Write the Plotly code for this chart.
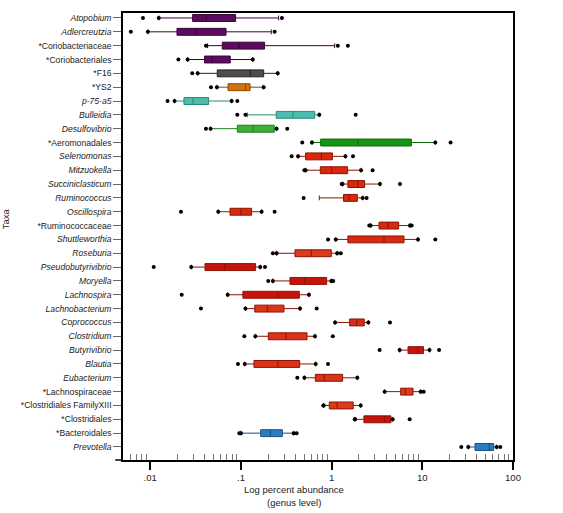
import plotly.graph_objects as go

taxa = ["Atopobium", "Adlercreutzia", "*Coriobacteriaceae", "*Coriobacteriales", "*F16", "*YS2",
        "p-75-a5", "Bulleidia", "Desulfovibrio", "*Aeromonadales", "Selenomonas", "Mitzuokella",
        "Succiniclasticum", "Ruminococcus", "Oscillospira", "*Ruminococcaceae", "Shuttleworthia",
        "Roseburia", "Pseudobutyrivibrio", "Moryella", "Lachnospira", "Lachnobacterium",
        "Coprococcus", "Clostridium", "Butyrivibrio", "Blautia", "Eubacterium",
        "*Lachnospiraceae", "*Clostridiales FamilyXIII", "*Clostridiales", "*Bacteroidales",
        "Prevotella"]

whisker_low = [0.0124, 0.0094, 0.0429, 0.0258, 0.0333, 0.0543, 0.0185, 0.118, 0.0462, 0.607,
               0.426, 0.516, 1.32, 0.731, 0.0562, 2.69, 1.11, 0.247, 0.0283, 0.225, 0.0713,
               0.112, 1.09, 0.144, 5.62, 0.110, 0.50, 3.84, 0.816, 1.81, 0.100, 32.1]
q1 = [0.0293, 0.0197, 0.0622, 0.0397, 0.0548, 0.072, 0.0235, 0.245, 0.0912, 0.757,
      0.516, 0.75, 1.51, 1.35, 0.0757, 3.33, 1.51, 0.394, 0.0401, 0.347, 0.105,
      0.142, 1.58, 0.200, 6.95, 0.139, 0.661, 5.77, 0.942, 2.27, 0.165, 38.1]
median = [0.0415, 0.0319, 0.0951, 0.0483, 0.127, 0.112, 0.0296, 0.375, 0.136, 1.95,
          0.769, 1.0, 1.94, 1.55, 0.100, 4.18, 3.78, 0.597, 0.0661, 0.50, 0.256,
          0.195, 1.89, 0.313, 8.89, 0.256, 0.830, 6.50, 1.15, 3.84, 0.211, 54.8]
q3 = [0.0873, 0.0684, 0.182, 0.0762, 0.178, 0.126, 0.044, 0.65, 0.233, 7.57,
      1.02, 1.5, 2.31, 1.92, 0.131, 5.48, 6.28, 0.991, 0.145, 0.881, 0.44,
      0.298, 2.29, 0.535, 10.3, 0.444, 1.32, 7.89, 1.73, 4.51, 0.286, 61.2]
whisker_high = [0.260, 0.216, 1.08, 0.135, 0.254, 0.175, 0.0789, 0.731, 0.247, 13.9,
                1.42, 2.11, 3.41, 2.20, 0.169, 7.31, 8.96, 1.15, 0.163, 0.991, 0.562,
                0.448, 2.54, 0.655, 12.0, 0.667, 1.92, 9.59, 2.09, 4.71, 0.381, 66.0]
points = [
    [0.0083, 0.0124, 0.283],
    [0.0061, 0.0094, 0.235],
    [0.0411, 1.17, 1.51],
    [0.0204, 0.0258, 0.135],
    [0.029, 0.0333, 0.254],
    [0.0467, 0.0543, 0.178],
    [0.0155, 0.0185, 0.0789, 0.0912],
    [0.0912, 0.112, 0.731, 1.84],
    [0.0411, 0.0462, 0.247, 0.324],
    [0.474, 0.607, 13.9, 20.5],
    [0.362, 0.426, 1.42, 1.72],
    [0.50, 0.516, 2.11, 2.83],
    [1.29, 1.32, 3.41, 5.67],
    [0.491, 2.20, 2.43],
    [0.0218, 0.0562, 0.169, 0.235],
    [2.60, 2.69, 7.31, 7.63],
    [0.912, 1.11, 8.96, 13.9],
    [0.225, 0.247, 1.15, 1.26],
    [0.0109, 0.0283, 0.163, 0.184],
    [0.20, 0.225, 0.991, 1.04],
    [0.0222, 0.0713, 0.562],
    [0.0362, 0.112, 0.448, 0.684],
    [1.09, 2.54, 4.40],
    [0.109, 0.144, 0.655, 1.03],
    [3.38, 5.62, 12.0, 15.3],
    [0.0927, 0.110, 0.667, 0.912],
    [0.418, 0.50, 1.92],
    [3.84, 9.59, 10.35],
    [0.81, 0.816, 2.09],
    [1.80, 1.81, 4.71, 7.25],
    [0.0959, 0.100, 0.381, 0.411],
    [26.9, 32.1, 66.0, 72.4],
]
italic = [True, True, False, False, False, False, True, True, True, False, True, True,
          True, True, True, False, True, True, True, True, True, True, True, True, True,
          True, True, False, False, False, False, True]

fills = ["#5c0b5e"] * 4 + ["#4d4d4d", "#d4700f", "#4cbdae", "#4cbdae", "#3cb039", "#149614"] + \
        ["#d8280e"] * 7 + ["#dc3a1a", "#c8120c", "#c8120c", "#c8120c", "#dc3518", "#d0301a",
                           "#dc3218", "#c8120c", "#dc3218", "#dc3218", "#dc3a1a", "#dc3a1a",
                           "#c8120c", "#2b7cc4", "#2b7cc4"]
lines = ["#3a003a"] * 4 + ["#222222", "#8a4a00", "#2a8a7a", "#2a8a7a", "#1f7a1f", "#0a6a0a"] + \
        ["#8a1505"] * 7 + ["#8a1505"] * 13 + ["#1a4f80", "#1a4f80"]

tick_labels = [f"<i>{t}</i>" if it else t for t, it in zip(taxa, italic)]
x_ticks = [0.01, 0.1, 1, 10, 100]
x_ticktext = [".01", ".1", "1", "10", "100"]
minor_vals = [m * 10 ** e for e in range(-3, 2) for m in range(2, 10) if 0.005 < m * 10 ** e < 100]

FONT = "Liberation Sans, Arial, sans-serif"

fig = go.Figure()
for i, t in enumerate(taxa):
    fig.add_trace(go.Box(
        y=[t], q1=[q1[i]], median=[median[i]], q3=[q3[i]],
        lowerfence=[whisker_low[i]], upperfence=[whisker_high[i]],
        orientation="h", fillcolor=fills[i], line=dict(color=lines[i], width=1),
        width=0.5, whiskerwidth=0.7, boxpoints=False, showlegend=False, hoverinfo="skip"))
pts_x, pts_y = [], []
for t, p in zip(taxa, points):
    pts_x += p
    pts_y += [t] * len(p)
fig.add_trace(go.Scatter(x=pts_x, y=pts_y, mode="markers",
                         marker=dict(color="black", size=4), showlegend=False))

fig.update_layout(
    width=563, height=513, margin=dict(l=123, r=50, t=13, b=53, autoexpand=False),
    plot_bgcolor="white", paper_bgcolor="white", boxmode="overlay",
    font=dict(family=FONT, size=9, color="#222"),
    xaxis=dict(type="log", range=[-2.301, 2], tickvals=x_ticks, ticktext=x_ticktext,
               ticks="outside", ticklen=8, tickwidth=2, tickcolor="black",
               minor=dict(ticks="inside", ticklen=6, tickwidth=1, tickcolor="#777",
                          tickvals=minor_vals),
               showline=True, linecolor="black", linewidth=1.5, mirror=True, automargin=False,
               showgrid=False, zeroline=False, tickfont=dict(size=9.5)),
    yaxis=dict(type="category", categoryorder="array", categoryarray=taxa,
               range=[31.94, -0.36], tickvals=taxa, ticktext=tick_labels, automargin=False,
               ticks="outside", ticklen=8, tickcolor="#666", tickwidth=1,
               showline=True, linecolor="black", linewidth=1.5, mirror=True,
               showgrid=False, zeroline=False, tickfont=dict(size=8.6)),
    annotations=[
        dict(text="Log percent abundance", xref="paper", yref="paper", x=0.438, y=-0.065,
             showarrow=False, font=dict(size=9.5), xanchor="center", yanchor="middle"),
        dict(text="(genus level)", xref="paper", yref="paper", x=0.438, y=-0.094,
             showarrow=False, font=dict(size=9.5), xanchor="center", yanchor="middle"),
        dict(text="Taxa", xref="paper", yref="paper", x=-0.301, y=0.54, textangle=-90,
             showarrow=False, font=dict(size=9.5), xanchor="center", yanchor="middle"),
    ],
    shapes=[dict(type="line", xref="paper", yref="paper", x0=-0.02, x1=0, y0=0, y1=0,
                 line=dict(color="black", width=1.5))],
)
fig.write_html("out.html", config={"displayModeBar": False},
               post_script="document.body.style.margin='0';")
